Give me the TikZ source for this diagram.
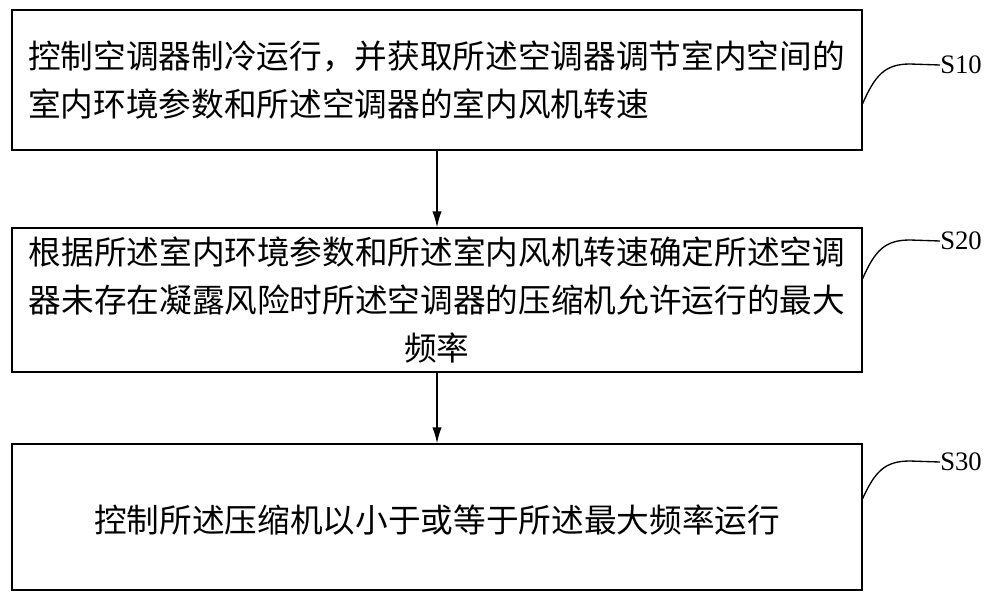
\documentclass[tikz,border=0pt]{standalone}
\usepackage{fontspec}
\newfontfamily\cjk{Noto Sans CJK SC}
\setmainfont{Liberation Serif}
\begin{document}
\begin{tikzpicture}[x=0.75pt,y=-0.75pt,
  box/.style={draw,line width=1pt,minimum width=850*0.75pt,inner sep=0pt,font=\cjk\fontsize{24.5pt}{36pt}\selectfont},
  lab/.style={font=\fontsize{20pt}{22pt}\selectfont,anchor=west,inner sep=0pt},
  arr/.style={-{Latex[length=12pt,width=7pt]},line width=1pt},
  lead/.style={line width=1pt}]
\usetikzlibrary{arrows.meta}
\useasboundingbox (0,0) rectangle (1000,601);
\node[box,minimum height=140*0.75pt] (b1) at (437,80) {};
\node[box,minimum height=144*0.75pt] (b2) at (437,300) {};
\node[box,minimum height=146*0.75pt] (b3) at (437,517) {};
\node[font=\cjk\fontsize{24.5pt}{36pt}\selectfont,align=left,anchor=west,inner sep=0pt] (t1) at (28,80) {控制空调器制冷运行，并获取所述空调器调节室内空间的\\室内环境参数和所述空调器的室内风机转速};
\node[font=\cjk\fontsize{24.5pt}{36pt}\selectfont,align=center,inner sep=0pt] (t2) at (437,300) {根据所述室内环境参数和所述室内风机转速确定所述空调\\器未存在凝露风险时所述空调器的压缩机允许运行的最大\\频率};
\node[font=\cjk\fontsize{24.5pt}{36pt}\selectfont,inner sep=0pt] (t3) at (437,520) {控制所述压缩机以小于或等于所述最大频率运行};
\draw[arr] (b1.south) -- (b2.north);
\draw[arr] (b2.south) -- (b3.north);
\node[lab] (s1) at (940,65) {S10};
\node[lab] (s2) at (940,241) {S20};
\node[lab] (s3) at (940,462) {S30};
\coordinate (c1) at (862,105); \coordinate (c2) at (862,280); \coordinate (c3) at (862,500);
\draw[lead] (c1) .. controls (875,75) and (885,64) .. (910,64) -- (s1.west);
\draw[lead] (c2) .. controls (875,250) and (885,240) .. (910,240) -- (s2.west);
\draw[lead] (c3) .. controls (875,471) and (885,461) .. (910,461) -- (s3.west);
\end{tikzpicture}
\end{document}
